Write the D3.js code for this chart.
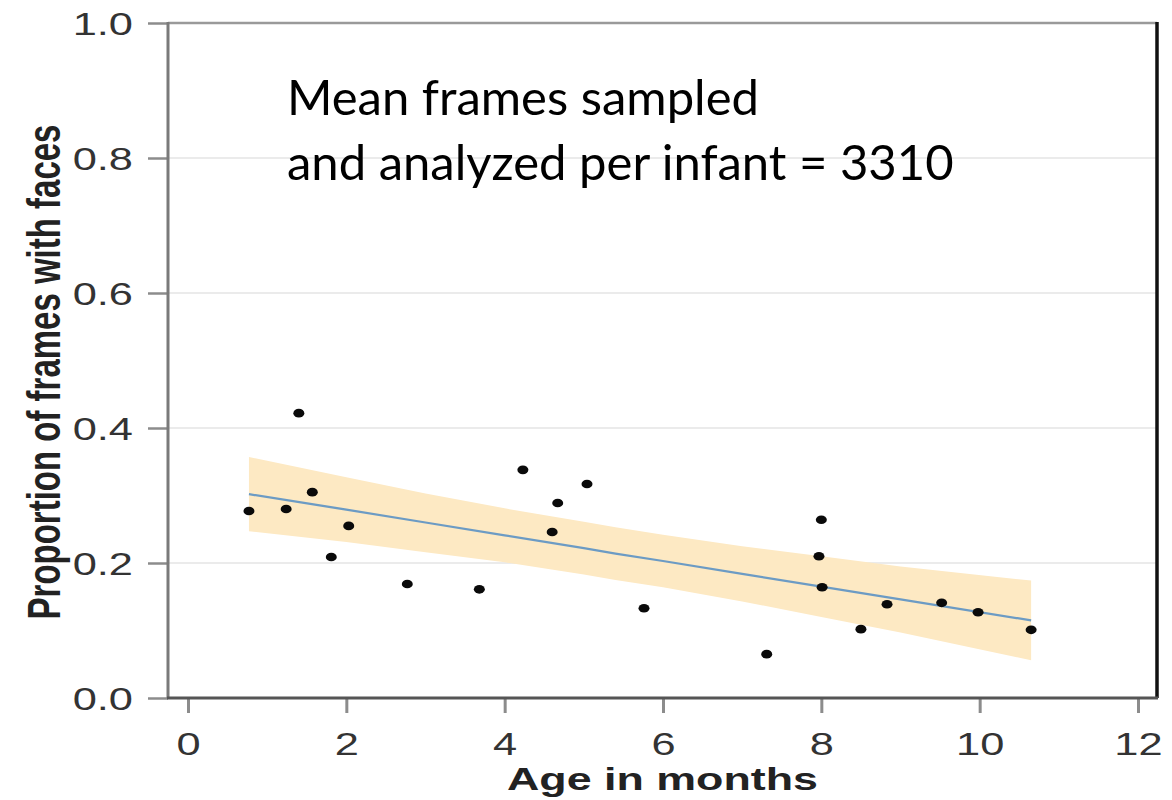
<!DOCTYPE html>
<html>
<head>
<meta charset="utf-8">
<script src="https://cdn.jsdelivr.net/npm/d3@7"></script>
<style>
    body { margin: 0; background: #fff; }
    svg { display: block; }
</style>
</head>
<body>
<div id="container"></div>
<script>
// infants: age in months and proportion of frames with faces
let ages = [0.77, 1.24, 1.40, 1.57, 1.81, 2.03, 2.77, 3.68, 4.23, 4.60, 4.67,
            5.04, 5.76, 7.31, 8.00, 7.97, 8.01, 8.50, 8.83, 9.52, 9.98, 10.65];
let proportions = [0.277, 0.280, 0.422, 0.305, 0.209, 0.255, 0.169, 0.161, 0.338, 0.246, 0.289,
                   0.317, 0.133, 0.065, 0.264, 0.210, 0.164, 0.102, 0.139, 0.141, 0.127, 0.101];

// linear fit and its confidence band
let fitAges = [0.77, 2, 3, 4, 5, 5.4, 6, 7, 8, 9, 10.65];
let fitMid  = [0.302, 0.279, 0.260, 0.241, 0.222, 0.214, 0.203, 0.184, 0.165, 0.146, 0.115];
let fitLow  = [0.247, 0.231, 0.216, 0.201, 0.183, 0.175, 0.164, 0.143, 0.120, 0.097, 0.056];
let fitHigh = [0.357, 0.327, 0.303, 0.281, 0.261, 0.253, 0.242, 0.225, 0.210, 0.195, 0.174];

let xTicks = [0, 2, 4, 6, 8, 10, 12];
let yTicks = [0, 0.2, 0.4, 0.6, 0.8, 1.0];

let xLabel = "Age in months";
let yLabel = "Proportion of frames with faces";
let noteLines = ["Mean frames sampled", "and analyzed per infant = 3310"];

let W = 1172, H = 800;
let panel = {left: 168, right: 1157, top: 23, bottom: 698};
let stretch = 1.4;   // the original figure is widened horizontally
let axisFont = "'Liberation Sans', Arial, sans-serif";

let svg = d3.select("#container").append("svg")
    .attr("width", W)
    .attr("height", H);

let x = d3.scaleLinear().domain([0, 12]).range([188, 1138]);
let y = d3.scaleLinear().domain([0, 1]).range([panel.bottom, panel.top]);

// horizontal grid lines
svg.append("g")
    .selectAll("line")
    .data(yTicks.filter(function(d) { return d > 0 && d < 1; }))
    .enter().append("line")
    .attr("x1", panel.left)
    .attr("x2", panel.right)
    .attr("y1", function(d) { return y(d); })
    .attr("y2", function(d) { return y(d); })
    .style("stroke", "#ebebeb")
    .style("stroke-width", 2);

// confidence band
let bandData = fitAges.map(function(a, i) { return {a: a, lo: fitLow[i], hi: fitHigh[i], mid: fitMid[i]}; });

svg.append("path")
    .datum(bandData)
    .attr("d", d3.area()
        .x(function(d) { return x(d.a); })
        .y0(function(d) { return y(d.lo); })
        .y1(function(d) { return y(d.hi); }))
    .style("fill", "#fde9c3")
    .style("stroke", "none");

svg.append("path")
    .datum(bandData)
    .attr("d", d3.line()
        .x(function(d) { return x(d.a); })
        .y(function(d) { return y(d.mid); }))
    .style("fill", "none")
    .style("stroke", "#6c9bc4")
    .style("stroke-width", 2.2);

// points
svg.append("g")
    .selectAll("ellipse")
    .data(ages)
    .enter().append("ellipse")
    .attr("cx", function(d) { return x(d); })
    .attr("cy", function(d, i) { return y(proportions[i]); })
    .attr("rx", 5.5)
    .attr("ry", 4.3)
    .style("fill", "#0a0a0a");

// frame: top line grey, right side black
svg.append("line")
    .attr("x1", panel.left).attr("x2", panel.right)
    .attr("y1", panel.top).attr("y2", panel.top)
    .style("stroke", "#9a9a9a")
    .style("stroke-width", 2.5);

svg.append("line")
    .attr("x1", panel.right).attr("x2", panel.right)
    .attr("y1", panel.top - 1).attr("y2", panel.bottom)
    .style("stroke", "#111")
    .style("stroke-width", 3.5);

// x axis
let xAxis = svg.append("g")
    .attr("transform", "translate(0," + panel.bottom + ")")
    .call(d3.axisBottom(x).tickValues(xTicks).tickSize(15).tickFormat(d3.format("d")));

xAxis.select(".domain").remove();
xAxis.selectAll(".tick line")
    .style("stroke", "#8c8c8c")
    .style("stroke-width", 3);
xAxis.selectAll(".tick text")
    .attr("y", 0)
    .attr("dy", "0.71em")
    .attr("transform", "translate(0,35) scale(" + stretch + ",1)")
    .style("font-family", axisFont)
    .style("font-size", "31px")
    .style("fill", "#333");

// y axis
let yAxis = svg.append("g")
    .attr("transform", "translate(" + panel.left + ",0)")
    .call(d3.axisLeft(y).tickValues(yTicks).tickSize(20).tickFormat(d3.format(".1f")));

yAxis.select(".domain").remove();
yAxis.selectAll(".tick line")
    .style("stroke", "#8c8c8c")
    .style("stroke-width", 2.5);
yAxis.selectAll(".tick text")
    .attr("x", 0)
    .attr("dy", "0.36em")
    .attr("transform", "translate(-35,0) scale(" + stretch + ",1)")
    .style("font-family", axisFont)
    .style("font-size", "31px")
    .style("fill", "#333");

// axis lines
svg.append("line")
    .attr("x1", panel.left).attr("x2", panel.left)
    .attr("y1", panel.top - 1).attr("y2", panel.bottom)
    .style("stroke", "#7a7a7a")
    .style("stroke-width", 3);

svg.append("line")
    .attr("x1", panel.left - 1).attr("x2", panel.right + 1)
    .attr("y1", panel.bottom).attr("y2", panel.bottom)
    .style("stroke", "#555")
    .style("stroke-width", 3);

// axis titles
svg.append("text")
    .attr("transform", "translate(" + ((panel.left + panel.right) / 2) + ",790) scale(" + stretch + ",1)")
    .attr("text-anchor", "middle")
    .style("font-family", axisFont)
    .style("font-weight", "bold")
    .style("font-size", "32px")
    .style("fill", "#222")
    .text(xLabel);

svg.append("text")
    .attr("transform", "translate(60,372) scale(" + stretch + ",1) rotate(-90)")
    .attr("text-anchor", "middle")
    .style("font-family", axisFont)
    .style("font-weight", "bold")
    .style("font-size", "33px")
    .style("fill", "#222")
    .text(yLabel);

// annotation
svg.append("g")
    .selectAll("text")
    .data(noteLines)
    .enter().append("text")
    .attr("x", 287)
    .attr("y", function(d, i) { return 115 + i * 65; })
    .style("font-family", "Lato, 'Open Sans', sans-serif")
    .style("font-size", "49px")
    .style("fill", "#000")
    .text(function(d) { return d; });
</script>
</body>
</html>
